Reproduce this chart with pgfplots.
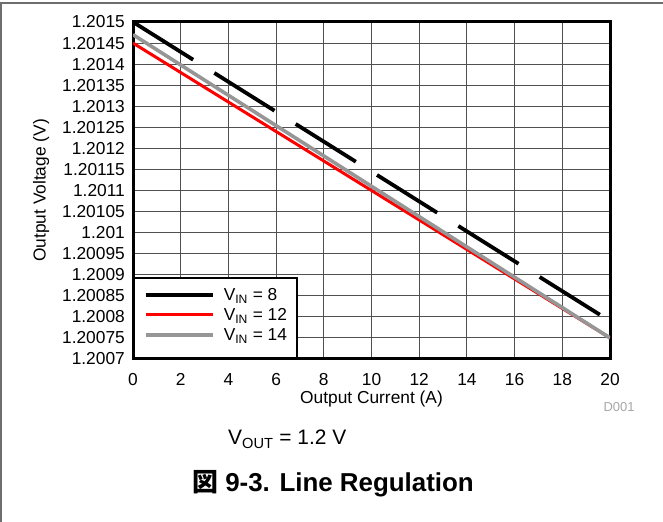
\documentclass[border=0pt]{standalone}
\usepackage{pgfplots}
\pgfplotsset{compat=1.18}
\usepackage{fontspec}
\setmainfont{Liberation Sans}
\newfontfamily\cjk{Noto Sans CJK JP}
\definecolor{vgray}{RGB}{150,150,150}
\definecolor{framegray}{RGB}{110,110,110}
\definecolor{gridc}{RGB}{80,80,80}
% y values are stored as (V - 1.2 V) in units of 10 uV (e.g. 145 = 1.20145 V)
\begin{document}
\begin{tikzpicture}[x=1bp,y=1bp]
\path[use as bounding box] (0,0) rectangle (663,522);
\draw[framegray, line width=1.5bp] (0.75,0) -- (0.75,519) -- (663,519);
\begin{axis}[
 at={(133bp,163bp)}, anchor=south west,
 scale only axis, width=477bp, height=337bp,
 xmin=0, xmax=20, ymin=70, ymax=150,
 xtick={0,2,...,20}, xticklabels={0,2,4,6,8,10,12,14,16,18,20},
 ytick={70,75,...,150},
 yticklabels={1.2007,1.20075,1.2008,1.20085,1.2009,1.20095,1.201,1.20105,1.2011,1.20115,1.2012,1.20125,1.2013,1.20135,1.2014,1.20145,1.2015},
 major tick length=0pt,
 grid=major, major grid style={gridc, line width=1.1bp},
 axis line style={line width=3bp},
 tick label style={font=\fontsize{17.4}{20}\selectfont, inner sep=0pt},
 xticklabel style={anchor=north, yshift=-14bp},
 yticklabel style={anchor=east, xshift=-8bp},
 xlabel={Output Current (A)},
 ylabel={Output Voltage (V)},
 label style={font=\fontsize{17.4}{20}\selectfont, inner sep=0pt},
 xlabel style={at={(axis description cs:0.5,0)}, anchor=base, yshift=-45bp},
 ylabel style={at={(axis description cs:-0.1834,0.5)}, anchor=base},
 legend style={at={(axis description cs:0,0)}, anchor=south west, draw=black, line width=2bp,
   inner xsep=10bp, inner ysep=10bp, font=\fontsize{17.4}{20}\selectfont,
   column sep=9bp, row sep=0pt, nodes={inner sep=0pt, text height=13bp, text depth=7bp}},
 legend cell align=left,
 legend image code/.code={\draw[#1, solid] (0bp,3bp) -- (67bp,3bp);},
]
\addplot[black, line width=3.8bp, dash pattern=on 71bp off 25bp] coordinates {(0,150) (20,79)};
\addlegendentry{V\textsubscript{IN} = 8}
\addplot[red, line width=3bp] coordinates {(0,145) (20,75)};
\addlegendentry{V\textsubscript{IN} = 12}
\addplot[vgray, line width=3.6bp] coordinates {(0,147) (20,75)};
\addlegendentry{V\textsubscript{IN} = 14}
\end{axis}
\node[anchor=base west, font=\fontsize{21}{24}\selectfont, inner sep=0pt] at (228,77) {V\textsubscript{OUT} = 1.2 V};
\node[anchor=base west, font=\fontsize{26}{30}\selectfont\bfseries, inner sep=0pt] at (192,30.5) {{\cjk 図} 9-3. Line Regulation};
\node[anchor=center, font=\fontsize{13}{15}\selectfont, text=black!35, inner sep=0pt] at (619,115) {D001};
\end{tikzpicture}
\end{document}
